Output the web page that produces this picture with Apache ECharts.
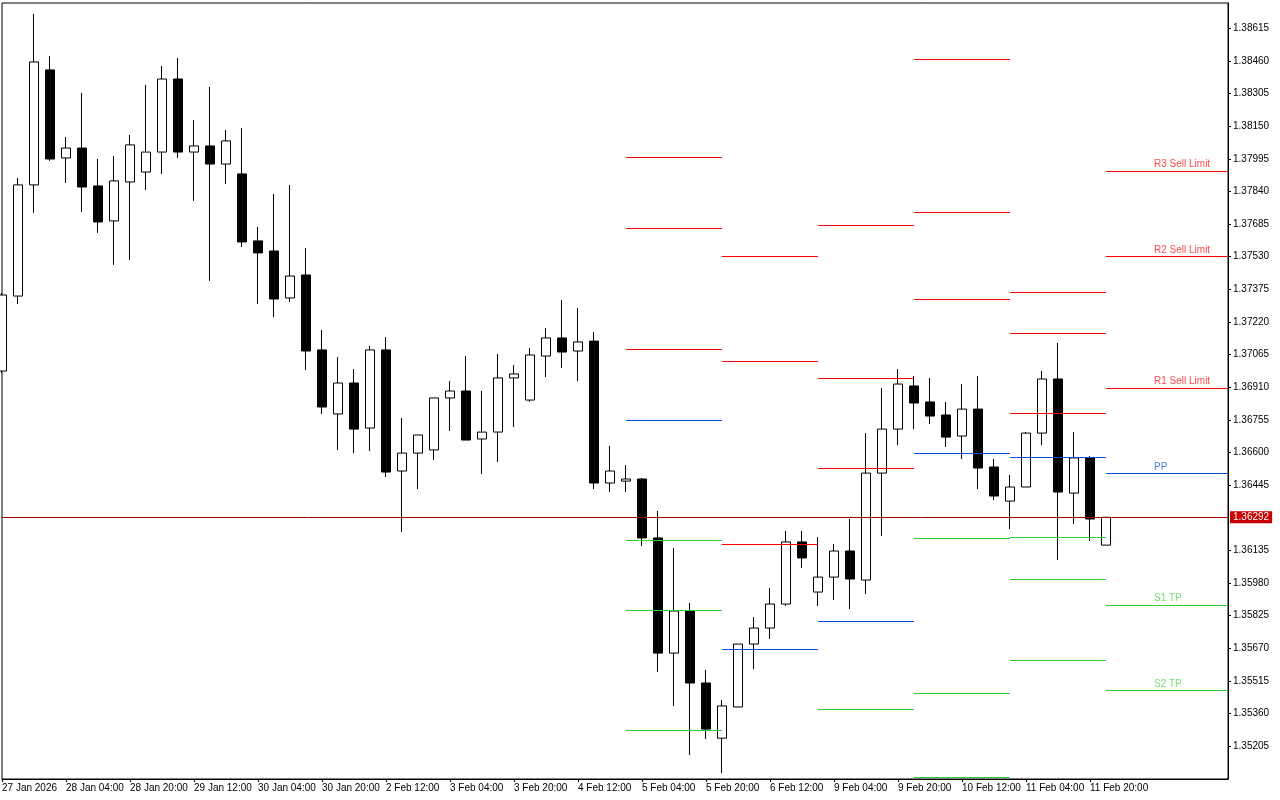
<!DOCTYPE html>
<html>
<head>
<meta charset="utf-8">
<script src="https://cdn.jsdelivr.net/npm/echarts@6/dist/echarts.min.js"></script>
<style>
html,body{margin:0;padding:0;background:#fff;}
#chart{width:1280px;height:800px;}
</style>
</head>
<body>
<div id="chart"></div>
<script>
// ---- H4 candles (bar index 0 = 27 Jan 2026 12:00, 4 hours per bar) ----
const opens = [1.36987,1.37343,1.37871,1.38417,1.37999,1.38046,1.37866,1.37700,1.37885,1.37932,
1.38027,1.38374,1.38027,1.38056,1.37970,1.37923,1.37605,1.37557,1.37334,1.37443,
1.37087,1.36783,1.36930,1.36716,1.37087,1.36512,1.36597,1.36612,1.36859,1.36892,
1.36664,1.36697,1.36954,1.36849,1.37058,1.37144,1.37082,1.37129,1.36455,1.36464,
1.36474,1.36194,1.35647,1.35847,1.35505,1.35243,1.35391,1.35690,1.35766,1.35880,
1.36175,1.35937,1.36008,1.36132,1.35994,1.36502,1.36711,1.36916,1.36840,1.36778,
1.36678,1.36806,1.36531,1.36369,1.36436,1.36692,1.36949,1.36407,1.36574,1.36160];

const closes = [1.37348,1.37871,1.38455,1.37994,1.38046,1.37861,1.37695,1.37890,1.38061,1.38027,
1.38374,1.38027,1.38056,1.37970,1.38080,1.37600,1.37548,1.37329,1.37438,1.37082,
1.36816,1.36930,1.36711,1.37087,1.36507,1.36597,1.36683,1.36859,1.36892,1.36659,
1.36697,1.36954,1.36973,1.37063,1.37144,1.37077,1.37125,1.36455,1.36512,1.36474,
1.36194,1.35647,1.35847,1.35505,1.35286,1.35396,1.35690,1.35766,1.35880,1.36175,
1.36099,1.36008,1.36132,1.35999,1.36502,1.36711,1.36925,1.36835,1.36773,1.36673,
1.36806,1.36526,1.36393,1.36436,1.36692,1.36949,1.36412,1.36574,1.36284,1.36292];

const lows = [1.36977,1.37305,1.37738,1.37985,1.37880,1.37742,1.37643,1.37491,1.37514,1.37847,
1.37923,1.37999,1.37795,1.37415,1.37875,1.37576,1.37305,1.37243,1.37315,1.36992,
1.36783,1.36612,1.36597,1.36607,1.36483,1.36222,1.36426,1.36564,1.36702,1.36659,
1.36498,1.36555,1.36721,1.36840,1.36958,1.37001,1.36939,1.36426,1.36412,1.36412,
1.36156,1.35557,1.35396,1.35163,1.35239,1.35077,1.35391,1.35571,1.35714,1.35871,
1.36051,1.35871,1.35899,1.35856,1.35928,1.36203,1.36635,1.36711,1.36735,1.36626,
1.36569,1.36426,1.36374,1.36236,1.36436,1.36635,1.36089,1.36260,1.36179,1.36160];

const highs = [1.37358,1.37904,1.38683,1.38483,1.38099,1.38308,1.37994,1.38008,1.38108,1.38346,
1.38436,1.38474,1.38179,1.38336,1.38132,1.38141,1.37671,1.37828,1.37871,1.37571,
1.37182,1.37053,1.36996,1.37106,1.37148,1.36764,1.36683,1.36859,1.36939,1.37058,
1.36892,1.37068,1.37015,1.37096,1.37191,1.37324,1.37286,1.37172,1.36631,1.36540,
1.36479,1.36322,1.36146,1.35885,1.35567,1.35424,1.35690,1.35818,1.35956,1.36227,
1.36227,1.36198,1.36165,1.36284,1.36692,1.36906,1.36996,1.36963,1.36954,1.36840,
1.36925,1.36963,1.36569,1.36493,1.36697,1.36987,1.37120,1.36697,1.36583,1.36292];

const currentPrice = 1.36292;

// ---- time axis ticks ----
const timeTickBars = [0,4,8,12,16,20,24,28,32,36,40,44,48,52,56,60,64,68];
const timeTickLabels = ['27 Jan 2026','28 Jan 04:00','28 Jan 20:00','29 Jan 12:00','30 Jan 04:00','30 Jan 20:00',
  '2 Feb 12:00','3 Feb 04:00','3 Feb 20:00','4 Feb 12:00','5 Feb 04:00','5 Feb 20:00','6 Feb 12:00',
  '9 Feb 04:00','9 Feb 20:00','10 Feb 12:00','11 Feb 04:00','11 Feb 20:00'];

// ---- price axis ticks ----
const priceTicks = [1.35205,1.35360,1.35515,1.35670,1.35825,1.35980,1.36135,1.36445,1.36600,1.36755,
  1.36910,1.37065,1.37220,1.37375,1.37530,1.37685,1.37840,1.37995,1.38150,1.38305,1.38460,1.38615];

// ---- daily pivot levels ----
const pivotDays = ['5 Feb','6 Feb','9 Feb','10 Feb','11 Feb','12 Feb'];
const dayStartBar = [39,45,51,57,63,69];
const dayEndBar = [45,51,57,63,69,82];
const R3 = [1.37999,1.37533,1.37676,1.38469,1.37362,1.37937];
const R2 = [1.37662,1.37034,1.36949,1.37738,1.37163,1.37529];
const R1 = [1.37091,1.36165,1.36526,1.37329,1.36783,1.36906];
const PP = [1.36754,1.35666,1.35799,1.36593,1.36578,1.36498];
const S1 = [1.36184,1.34797,1.35377,1.36189,1.36198,1.35875];
const S2 = [1.35847,1.34298,1.34650,1.35457,1.35999,1.35467];
const S3 = [1.35277,1.33429,1.34227,1.35056,1.35614,1.34845];
const levelNames = ['R3','R2','R1','PP','S1','S2','S3'];
const levelTexts = ['R3 Sell Limit','R2 Sell Limit','R1 Sell Limit','PP','S1 TP','S2 TP',''];

// ---- styling ----
const FONT = "'Liberation Sans', Arial, 'DejaVu Sans', sans-serif";
const RED = '#ff0000', BLUE = '#0050dc', GREEN = '#32cd32';
const levelColors = [RED, RED, RED, BLUE, GREEN, GREEN, GREEN];
const levelTextColors = ['#ff1a1a','#ff1a1a','#ff1a1a','#1a5fdd','#4fd94f','#4fd94f','#4fd94f'];
const levelValues = [R3, R2, R1, PP, S1, S2, S3];

const candleData = opens.map((o, i) => [i, o, closes[i], lows[i], highs[i]]);

// one row per level segment: [startBar, endBar, price, levelIndex]
const levelSegments = [];
levelValues.forEach((vals, k) => {
  vals.forEach((v, d) => levelSegments.push([dayStartBar[d], dayEndBar[d], v, k]));
});

function renderLevel(params, api) {
  const cs = params.coordSys;
  const p1 = api.coord([api.value(0), api.value(2)]);
  const p2 = api.coord([api.value(1), api.value(2)]);
  const top = cs.y, bottom = cs.y + cs.height;
  if (p1[1] < top - 0.5 || p1[1] > bottom + 0.5) return null;
  const y = Math.min(Math.floor(p1[1]), Math.floor(bottom) - 1) + 0.5;
  const x1 = Math.max(p1[0], cs.x);
  const x2 = Math.min(p2[0], cs.x + cs.width);
  return {
    type: 'line',
    shape: { x1: Math.round(x1), y1: y, x2: Math.round(x2), y2: y },
    style: { stroke: levelColors[api.value(3)], lineWidth: 1 },
    silent: true
  };
}

const last = pivotDays.length - 1;
const labelData = [];
levelValues.forEach((vals, k) => {
  if (!levelTexts[k]) return;
  labelData.push({
    value: [dayStartBar[last], vals[last]],
    name: levelTexts[k],
    label: { color: levelTextColors[k] }
  });
});

const chart = echarts.init(document.getElementById('chart'), null, { renderer: 'canvas' });
chart.setOption({
  animation: false,
  backgroundColor: '#ffffff',
  grid: { left: 2, right: 52, top: 3, bottom: 21, show: true, borderColor: '#000', borderWidth: 1,
          backgroundColor: 'transparent', containLabel: false, outerBoundsMode: 'none' },
  xAxis: {
    type: 'value', min: 0, max: 76.625,
    splitLine: { show: false },
    axisLine: { show: true, onZero: false, lineStyle: { color: '#000', width: 1 } },
    axisTick: { show: true, length: 3, customValues: timeTickBars, lineStyle: { color: '#000' } },
    axisLabel: {
      customValues: timeTickBars,
      formatter: v => timeTickLabels[timeTickBars.indexOf(Math.round(v))] || '',
      align: 'left', margin: 4, color: '#000', fontSize: 10, fontFamily: FONT
    }
  },
  yAxis: {
    type: 'value', position: 'right', min: 1.35049, max: 1.38735, scale: true,
    splitLine: { show: false },
    axisLine: { show: true, onZero: false, lineStyle: { color: '#000', width: 1 } },
    axisTick: { show: true, length: 3, customValues: priceTicks, lineStyle: { color: '#000' } },
    axisLabel: {
      customValues: priceTicks,
      formatter: v => v.toFixed(5),
      margin: 5, color: '#000', fontSize: 10, fontFamily: FONT
    }
  },
  series: [
    {
      name: 'GBPUSD H4', type: 'candlestick', data: candleData,
      encode: { x: 0, y: [1, 2, 3, 4] },
      barWidth: 10, z: 3,
      itemStyle: { color: '#ffffff', color0: '#000000', borderColor: '#000000', borderColor0: '#000000',
                   borderColorDoji: '#000000', borderWidth: 1 }
    },
    {
      name: 'Bid', type: 'line', data: [[candleData.length - 1, currentPrice]],
      symbol: 'none', showSymbol: false, silent: true, z: 4,
      lineStyle: { width: 0 },
      markLine: {
        silent: true, symbol: ['none', 'none'], animation: false, precision: 5,
        data: [{ yAxis: currentPrice }],
        lineStyle: { color: '#a00000', width: 1, type: 'solid' },
        label: {
          show: true, position: 'end', distance: 2,
          formatter: currentPrice.toFixed(5),
          color: '#ffffff', backgroundColor: '#c80000', padding: [1, 3, 1, 3],
          fontSize: 10, fontFamily: FONT
        }
      }
    },
    {
      name: 'Pivot levels', type: 'custom', data: levelSegments,
      encode: { x: [0, 1], y: 2 },
      renderItem: renderLevel, z: 5, silent: true, clip: false
    },
    {
      name: 'levelLabels', type: 'scatter', data: labelData,
      symbolSize: 1, itemStyle: { color: 'rgba(0,0,0,0)' }, silent: true, z: 6, clip: false,
      label: {
        show: true, position: 'top', align: 'left', distance: 1, offset: [48, 0],
        formatter: p => p.name, fontSize: 10, fontFamily: FONT
      }
    }
  ]
});
</script>
</body>
</html>
